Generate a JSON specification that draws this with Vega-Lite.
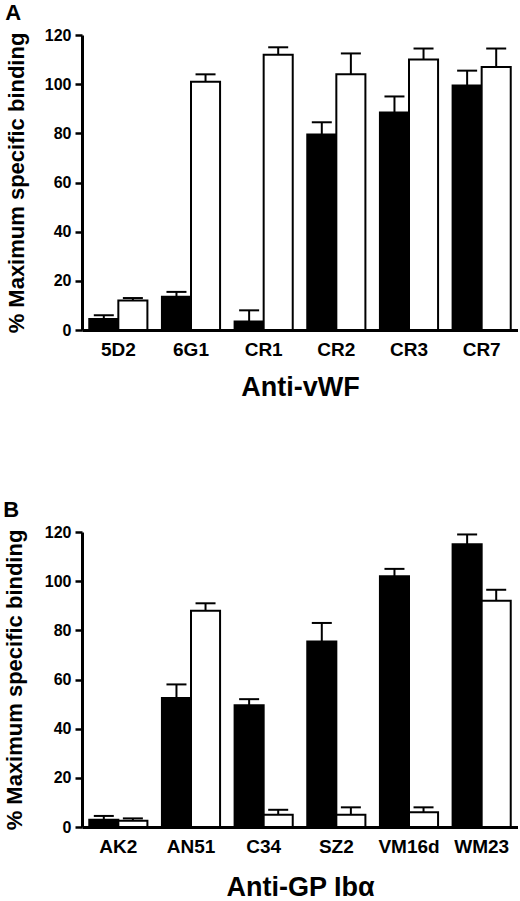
{
  "$schema": "https://vega.github.io/schema/vega-lite/v6.json",
  "padding": {"left": 3, "top": 2, "right": 0, "bottom": 0},
  "background": "white",
  "spacing": 99,
  "config": {
    "view": {"stroke": null},
    "font": "Liberation Sans",
    "axisX": {
      "domainWidth": 3, "domainColor": "black", "ticks": false,
      "labelFontSize": 19, "labelFontWeight": "bold", "labelColor": "black", "labelAngle": 0, "labelPadding": 10,
      "titleFontSize": 27, "titleFontWeight": "bold", "titleColor": "black", "titlePadding": 15
    },
    "axisY": {
      "domainWidth": 3, "domainColor": "black", "tickColor": "black", "tickWidth": 2.5, "tickSize": 7,
      "labelFontSize": 16, "labelFontWeight": "bold", "labelColor": "black", "labelPadding": 4,
      "titleFontSize": 22, "titleFontWeight": "bold", "titleColor": "black", "titlePadding": 18,
      "grid": false, "values": [0, 20, 40, 60, 80, 100, 120]
    },
    "title": {"fontSize": 22, "fontWeight": "bold", "color": "black", "anchor": "start", "frame": "bounds", "offset": 2}
  },
  "datasets": {
    "vwf": [
      {"antibody": "5D2", "condition": "filled", "value": 4.5, "upper": 6},
      {"antibody": "5D2", "condition": "open", "value": 12, "upper": 13},
      {"antibody": "6G1", "condition": "filled", "value": 13.5, "upper": 15.5},
      {"antibody": "6G1", "condition": "open", "value": 101, "upper": 104},
      {"antibody": "CR1", "condition": "filled", "value": 3.5, "upper": 8},
      {"antibody": "CR1", "condition": "open", "value": 112, "upper": 115},
      {"antibody": "CR2", "condition": "filled", "value": 79.5, "upper": 84.5},
      {"antibody": "CR2", "condition": "open", "value": 104, "upper": 112.5},
      {"antibody": "CR3", "condition": "filled", "value": 88.5, "upper": 95},
      {"antibody": "CR3", "condition": "open", "value": 110, "upper": 114.5},
      {"antibody": "CR7", "condition": "filled", "value": 99.5, "upper": 105.5},
      {"antibody": "CR7", "condition": "open", "value": 107, "upper": 114.5}
    ],
    "gp": [
      {"antibody": "AK2", "condition": "filled", "value": 3, "upper": 4.5},
      {"antibody": "AK2", "condition": "open", "value": 2.5, "upper": 3.5},
      {"antibody": "AN51", "condition": "filled", "value": 52.5, "upper": 58},
      {"antibody": "AN51", "condition": "open", "value": 88, "upper": 91},
      {"antibody": "C34", "condition": "filled", "value": 49.5, "upper": 52},
      {"antibody": "C34", "condition": "open", "value": 5, "upper": 7},
      {"antibody": "SZ2", "condition": "filled", "value": 75.5, "upper": 83},
      {"antibody": "SZ2", "condition": "open", "value": 5, "upper": 8},
      {"antibody": "VM16d", "condition": "filled", "value": 102, "upper": 105},
      {"antibody": "VM16d", "condition": "open", "value": 6, "upper": 8},
      {"antibody": "WM23", "condition": "filled", "value": 115, "upper": 119},
      {"antibody": "WM23", "condition": "open", "value": 92, "upper": 96.5}
    ]
  },
  "vconcat": [
    {
      "title": {"text": "A"},
      "data": {"name": "vwf"},
      "width": 436,
      "height": 295,
      "encoding": {
        "x": {"field": "antibody", "type": "nominal", "sort": null, "scale": {"paddingInner": 0.2, "paddingOuter": 0.1}, "axis": {"title": "Anti-vWF"}},
        "xOffset": {"field": "condition", "type": "nominal", "sort": null, "scale": {"paddingInner": 0, "paddingOuter": 0}}
      },
      "layer": [
        {
          "mark": {"type": "bar", "stroke": "black", "strokeWidth": 2},
          "encoding": {
            "y": {"field": "value", "type": "quantitative", "scale": {"domain": [0, 120]}, "axis": {"title": "% Maximum specific binding", "titlePadding": 16}},
            "fill": {"field": "condition", "type": "nominal", "scale": {"domain": ["filled", "open"], "range": ["black", "white"]}, "legend": null}
          }
        },
        {
          "mark": {"type": "rule", "strokeWidth": 2, "color": "black"},
          "encoding": {"y": {"field": "value", "type": "quantitative"}, "y2": {"field": "upper"}}
        },
        {
          "mark": {"type": "tick", "orient": "horizontal", "size": 20, "thickness": 2, "color": "black", "opacity": 1},
          "encoding": {"y": {"field": "upper", "type": "quantitative"}}
        }
      ]
    },
    {
      "title": {"text": "B"},
      "data": {"name": "gp"},
      "width": 436,
      "height": 295,
      "encoding": {
        "x": {"field": "antibody", "type": "nominal", "sort": null, "scale": {"paddingInner": 0.2, "paddingOuter": 0.1}, "axis": {"title": "Anti-GP Ibα", "titlePadding": 18}},
        "xOffset": {"field": "condition", "type": "nominal", "sort": null, "scale": {"paddingInner": 0, "paddingOuter": 0}}
      },
      "layer": [
        {
          "mark": {"type": "bar", "stroke": "black", "strokeWidth": 2},
          "encoding": {
            "y": {"field": "value", "type": "quantitative", "scale": {"domain": [0, 120]}, "axis": {"title": "% Maximum specific binding", "titlePadding": 18}},
            "fill": {"field": "condition", "type": "nominal", "scale": {"domain": ["filled", "open"], "range": ["black", "white"]}, "legend": null}
          }
        },
        {
          "mark": {"type": "rule", "strokeWidth": 2, "color": "black"},
          "encoding": {"y": {"field": "value", "type": "quantitative"}, "y2": {"field": "upper"}}
        },
        {
          "mark": {"type": "tick", "orient": "horizontal", "size": 20, "thickness": 2, "color": "black", "opacity": 1},
          "encoding": {"y": {"field": "upper", "type": "quantitative"}}
        }
      ]
    }
  ]
}
